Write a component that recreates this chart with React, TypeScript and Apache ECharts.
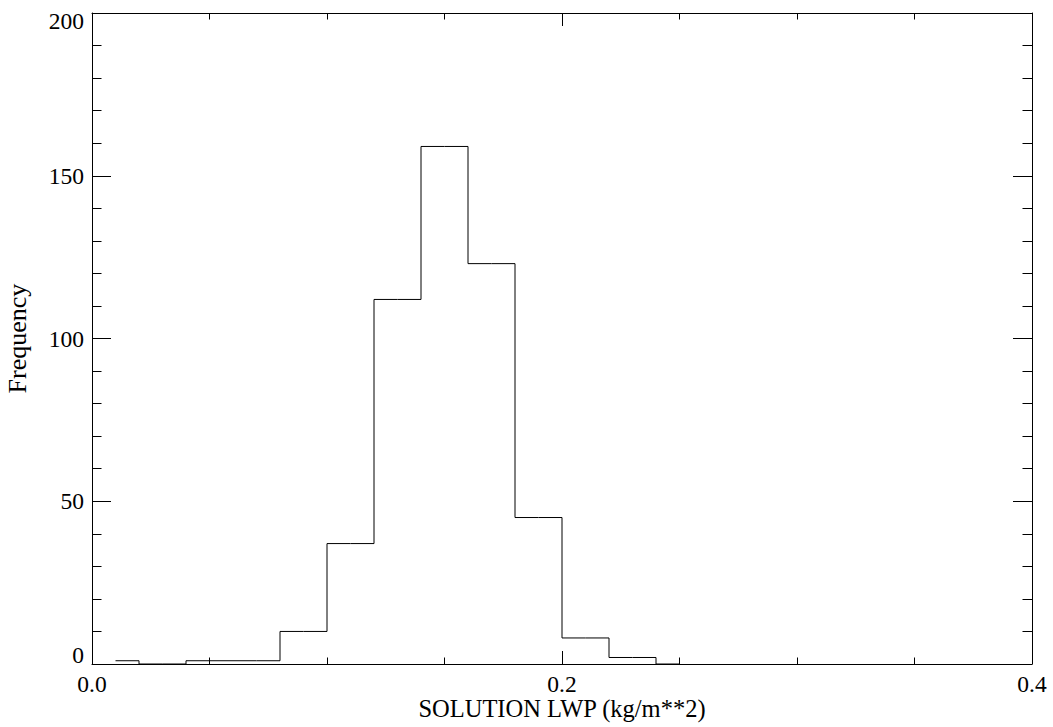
import React, { useEffect, useRef } from "react";
import * as echarts from "echarts";

const binCenters = [0.01, 0.03, 0.05, 0.07, 0.09, 0.11, 0.13, 0.15, 0.17, 0.19, 0.21, 0.23, 0.25];
const counts = [1, 0, 1, 1, 10, 37, 112, 159, 123, 45, 8, 2, 0];
const xTitle = "SOLUTION LWP (kg/m**2)";
const yTitle = "Frequency";

const FONT = "Liberation Serif";

export default function App() {
  const ref = useRef<HTMLDivElement>(null);
  useEffect(() => {
    document.body.style.margin = "0";
    const chart = echarts.init(ref.current!, null, { renderer: "svg" });
    const line = { lineStyle: { color: "#000", width: 1 } };
    const xCommon = {
      type: "value",
      min: 0,
      max: 0.4,
      interval: 0.2,
      splitLine: { show: false },
      axisLine: { show: true, onZero: false, ...line },
      axisTick: { show: true, inside: true, length: 13, ...line },
      minorTick: { show: true, splitNumber: 4, length: 6.5, ...line },
    };
    const yCommon = {
      type: "value",
      min: 0,
      max: 200,
      interval: 50,
      splitLine: { show: false },
      axisLine: { show: true, onZero: false, ...line },
      axisTick: { show: true, inside: true, length: 19, ...line },
      minorTick: { show: true, splitNumber: 5, length: 9.5, ...line },
    };
    chart.setOption({
      animation: false,
      backgroundColor: "#fff",
      grid: { left: 92, right: 21, top: 13, bottom: 63, outerBoundsMode: "none", containLabel: false },
      xAxis: [
        {
          ...xCommon,
          position: "bottom",
          name: xTitle,
          nameLocation: "middle",
          nameGap: 32,
          nameMoveOverlap: false,
          nameTextStyle: { fontFamily: FONT, fontSize: 24.5, color: "#000" },
          axisLabel: {
            show: true,
            margin: 8,
            fontFamily: FONT,
            fontSize: 23.5,
            color: "#000",
            formatter: (v: number) => v.toFixed(1),
          },
        },
        { ...xCommon, position: "top", axisLabel: { show: false } },
      ],
      yAxis: [
        {
          ...yCommon,
          position: "left",
          name: yTitle,
          nameLocation: "middle",
          nameGap: 62,
          nameMoveOverlap: false,
          nameTextStyle: { fontFamily: FONT, fontSize: 26, color: "#000" },
          axisLabel: {
            show: true,
            margin: 8,
            fontFamily: FONT,
            fontSize: 23.5,
            color: "#000",
            formatter: (v: number) =>
              v === 0 ? "{lo|0}" : v === 200 ? "{hi|200}" : String(v),
            rich: {
              lo: { fontFamily: FONT, fontSize: 23.5, color: "#000", padding: [0, 0, 18, 0] },
              hi: { fontFamily: FONT, fontSize: 23.5, color: "#000", padding: [16, 0, 0, 0] },
            },
          },
        },
        { ...yCommon, position: "right", axisLabel: { show: false } },
      ],
      series: [
        {
          type: "line",
          step: "middle",
          xAxisIndex: 0,
          yAxisIndex: 0,
          symbol: "none",
          lineStyle: { color: "#000", width: 1 },
          data: binCenters.map((c, i) => [c, counts[i]]),
        },
      ],
    });
    return () => chart.dispose();
  }, []);
  return <div ref={ref} style={{ width: 1053, height: 727 }} />;
}
